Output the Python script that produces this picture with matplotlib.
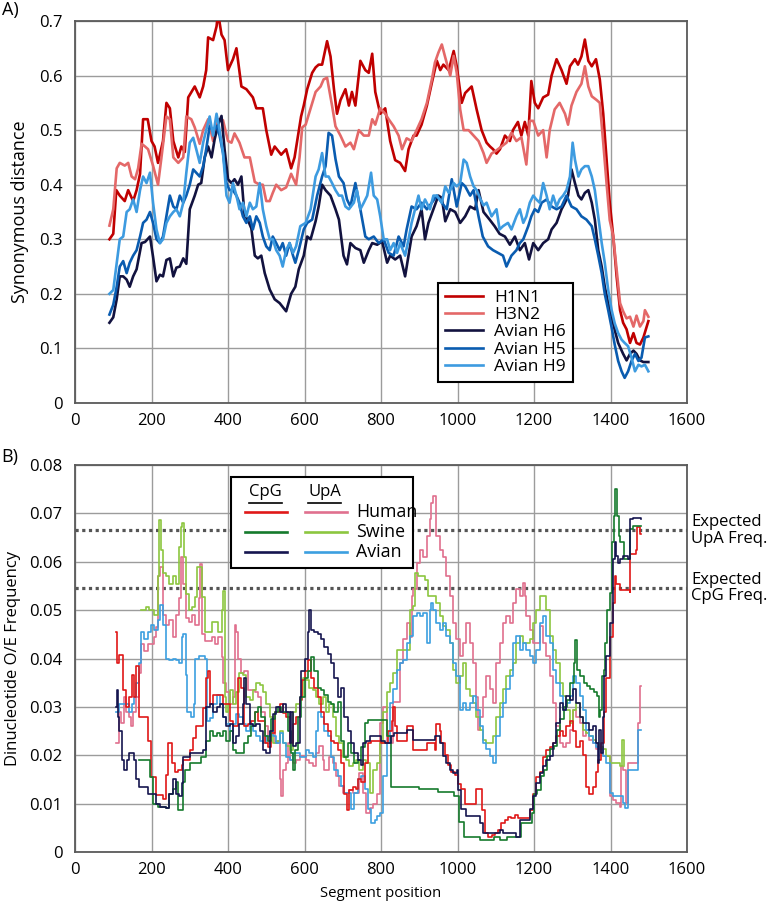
import matplotlib
matplotlib.use("Agg")
import matplotlib.pyplot as plt
import matplotlib.transforms as mtransforms
from matplotlib.patches import Rectangle
from matplotlib.ticker import FuncFormatter, MultipleLocator

plt.rcParams['font.family'] = ['Open Sans', 'DejaVu Sans']

# ---------------- Panel A: synonymous distance ----------------
h1n1_x = [90, 100, 108, 117, 130, 139, 152, 161, 170, 178, 190, 200, 208, 217, 230, 239, 248, 257, 270, 278,
          287, 296, 313, 326, 335, 343, 348, 361, 370, 374, 383, 391, 400, 413, 422, 435, 448, 465, 474, 491,
          500, 513, 522, 539, 552, 565, 574, 591, 598, 607, 620, 629, 637, 646, 659, 668, 677, 685, 694, 707,
          716, 724, 733, 746, 759, 768, 777, 785, 798, 811, 824, 837, 850, 863, 872, 885, 893, 906, 920, 933,
          946, 955, 963, 977, 990, 998, 1011, 1020, 1037, 1050, 1063, 1076, 1085, 1093, 1102, 1111, 1124, 1137,
          1145, 1158, 1167, 1176, 1185, 1193, 1202, 1211, 1224, 1237, 1246, 1259, 1272, 1285, 1294, 1307, 1315,
          1324, 1333, 1342, 1351, 1362, 1372, 1381, 1390, 1398, 1407, 1416, 1425, 1433, 1442, 1451, 1460, 1468,
          1477, 1486, 1499]
h1n1_y = [0.30, 0.31, 0.39, 0.38, 0.37, 0.39, 0.37, 0.39, 0.42, 0.52, 0.52, 0.48, 0.47, 0.44, 0.48, 0.55, 0.54,
          0.48, 0.45, 0.47, 0.46, 0.56, 0.58, 0.56, 0.58, 0.61, 0.67, 0.665, 0.69, 0.715, 0.675, 0.665, 0.61,
          0.63, 0.65, 0.58, 0.575, 0.56, 0.54, 0.54, 0.50, 0.455, 0.47, 0.455, 0.465, 0.43, 0.45, 0.525, 0.545,
          0.575, 0.605, 0.615, 0.62, 0.62, 0.663, 0.635, 0.575, 0.53, 0.555, 0.575, 0.545, 0.57, 0.545, 0.627,
          0.61, 0.605, 0.64, 0.57, 0.53, 0.54, 0.48, 0.445, 0.44, 0.425, 0.465, 0.49, 0.49, 0.51, 0.545, 0.587,
          0.627, 0.61, 0.62, 0.61, 0.645, 0.617, 0.55, 0.568, 0.58, 0.538, 0.50, 0.477, 0.47, 0.465, 0.457, 0.465,
          0.49, 0.48, 0.50, 0.515, 0.49, 0.515, 0.49, 0.59, 0.55, 0.54, 0.56, 0.565, 0.60, 0.63, 0.61, 0.585,
          0.617, 0.63, 0.62, 0.635, 0.666, 0.627, 0.617, 0.63, 0.593, 0.53, 0.445, 0.367, 0.306, 0.232, 0.17,
          0.147, 0.135, 0.11, 0.128, 0.11, 0.107, 0.12, 0.15]

h3n2_x = [90, 100, 109, 117, 130, 139, 148, 157, 165, 174, 183, 191, 204, 217, 226, 239, 248, 257, 270, 283,
          291, 304, 313, 326, 335, 348, 361, 374, 387, 400, 409, 417, 430, 443, 457, 470, 483, 491, 500, 509,
          517, 526, 539, 552, 565, 578, 587, 594, 603, 616, 629, 642, 650, 659, 672, 681, 694, 707, 720, 729,
          742, 755, 768, 777, 785, 798, 811, 820, 833, 846, 855, 867, 880, 893, 906, 920, 933, 941, 950, 959,
          968, 981, 990, 998, 1007, 1016, 1029, 1042, 1055, 1068, 1076, 1089, 1102, 1115, 1128, 1141, 1154, 1167,
          1180, 1189, 1198, 1211, 1224, 1233, 1241, 1254, 1267, 1281, 1289, 1298, 1311, 1324, 1333, 1342, 1351,
          1364, 1372, 1381, 1390, 1398, 1407, 1416, 1425, 1433, 1442, 1451, 1460, 1468, 1477, 1486, 1490, 1499]
h3n2_y = [0.325, 0.355, 0.43, 0.44, 0.435, 0.44, 0.415, 0.41, 0.43, 0.475, 0.47, 0.465, 0.435, 0.40, 0.45,
          0.525, 0.52, 0.45, 0.44, 0.45, 0.525, 0.52, 0.505, 0.475, 0.50, 0.52, 0.48, 0.52, 0.518, 0.48, 0.477,
          0.494, 0.477, 0.45, 0.45, 0.405, 0.40, 0.40, 0.37, 0.37, 0.385, 0.40, 0.39, 0.395, 0.42, 0.40, 0.45,
          0.505, 0.51, 0.54, 0.57, 0.58, 0.593, 0.596, 0.545, 0.507, 0.49, 0.47, 0.477, 0.465, 0.50, 0.49, 0.49,
          0.52, 0.51, 0.54, 0.53, 0.52, 0.507, 0.49, 0.465, 0.485, 0.48, 0.50, 0.52, 0.55, 0.593, 0.624, 0.642,
          0.657, 0.633, 0.60, 0.636, 0.605, 0.538, 0.50, 0.50, 0.49, 0.48, 0.458, 0.44, 0.457, 0.463, 0.47, 0.477,
          0.495, 0.48, 0.487, 0.437, 0.517, 0.517, 0.49, 0.50, 0.45, 0.50, 0.538, 0.55, 0.53, 0.51, 0.545, 0.57,
          0.585, 0.617, 0.58, 0.562, 0.555, 0.55, 0.477, 0.40, 0.335, 0.306, 0.245, 0.183, 0.168, 0.155, 0.158,
          0.14, 0.16, 0.14, 0.15, 0.17, 0.158]

h6_x = [90, 100, 109, 117, 126, 135, 143, 152, 161, 174, 183, 196, 204, 213, 222, 230, 239, 248, 257, 265,
        274, 283, 291, 300, 313, 322, 330, 339, 348, 357, 365, 374, 383, 391, 400, 409, 417, 426, 435, 443,
        452, 461, 470, 478, 487, 496, 509, 522, 535, 552, 565, 576, 585, 598, 607, 616, 629, 637, 646, 655,
        668, 681, 690, 702, 711, 720, 733, 746, 755, 768, 777, 790, 803, 816, 824, 837, 850, 863, 872, 880,
        893, 906, 915, 924, 937, 950, 959, 968, 981, 994, 1007, 1020, 1033, 1046, 1055, 1068, 1084, 1097, 1110,
        1124, 1137, 1150, 1163, 1176, 1187, 1198, 1211, 1224, 1237, 1246, 1259, 1272, 1281, 1289, 1298, 1307,
        1316, 1324, 1333, 1342, 1351, 1359, 1368, 1377, 1385, 1394, 1403, 1411, 1420, 1433, 1442, 1451, 1460,
        1468, 1477, 1486, 1499]
h6_y = [0.147, 0.157, 0.19, 0.232, 0.232, 0.226, 0.213, 0.232, 0.245, 0.293, 0.295, 0.305, 0.268, 0.223,
        0.235, 0.232, 0.262, 0.265, 0.232, 0.248, 0.25, 0.265, 0.255, 0.355, 0.38, 0.40, 0.403, 0.45, 0.47,
        0.45, 0.483, 0.51, 0.526, 0.465, 0.41, 0.403, 0.41, 0.40, 0.415, 0.345, 0.335, 0.32, 0.27, 0.265, 0.27,
        0.238, 0.208, 0.19, 0.183, 0.168, 0.20, 0.213, 0.245, 0.27, 0.305, 0.30, 0.333, 0.36, 0.40, 0.39, 0.38,
        0.355, 0.336, 0.27, 0.254, 0.293, 0.284, 0.28, 0.257, 0.28, 0.293, 0.29, 0.296, 0.257, 0.27, 0.263,
        0.27, 0.232, 0.27, 0.305, 0.324, 0.355, 0.30, 0.33, 0.355, 0.38, 0.376, 0.333, 0.355, 0.35, 0.33, 0.342,
        0.36, 0.355, 0.39, 0.35, 0.336, 0.324, 0.31, 0.305, 0.29, 0.305, 0.28, 0.293, 0.263, 0.293, 0.28, 0.293,
        0.30, 0.318, 0.33, 0.355, 0.367, 0.38, 0.428, 0.403, 0.38, 0.373, 0.385, 0.39, 0.367, 0.336, 0.28, 0.25,
        0.213, 0.183, 0.158, 0.134, 0.11, 0.09, 0.078, 0.09, 0.096, 0.09, 0.078, 0.075, 0.075]

h5_x = [90, 100, 109, 117, 126, 135, 143, 152, 161, 170, 178, 187, 196, 204, 213, 222, 230, 239, 248, 257,
        265, 274, 283, 291, 300, 309, 317, 326, 335, 343, 352, 361, 370, 378, 387, 396, 404, 413, 422, 430,
        439, 448, 457, 465, 474, 483, 491, 500, 509, 517, 526, 535, 543, 552, 561, 570, 576, 585, 598, 607,
        620, 633, 646, 655, 663, 672, 681, 690, 702, 711, 720, 733, 746, 759, 768, 781, 794, 807, 820, 833,
        846, 859, 867, 880, 893, 906, 920, 933, 946, 959, 972, 985, 998, 1011, 1020, 1033, 1042, 1055, 1066,
        1080, 1093, 1106, 1119, 1128, 1141, 1154, 1163, 1172, 1185, 1193, 1202, 1211, 1220, 1233, 1246, 1259,
        1272, 1285, 1298, 1311, 1324, 1337, 1351, 1359, 1368, 1377, 1385, 1394, 1403, 1411, 1420, 1429, 1437,
        1446, 1455, 1464, 1473, 1481, 1490, 1499]
h5_y = [0.162, 0.18, 0.213, 0.25, 0.26, 0.238, 0.257, 0.27, 0.28, 0.305, 0.33, 0.336, 0.35, 0.33, 0.30,
        0.293, 0.305, 0.342, 0.38, 0.36, 0.355, 0.38, 0.367, 0.38, 0.40, 0.428, 0.422, 0.415, 0.434, 0.465,
        0.507, 0.50, 0.507, 0.49, 0.458, 0.403, 0.39, 0.39, 0.38, 0.367, 0.342, 0.33, 0.342, 0.318, 0.342, 0.33,
        0.305, 0.287, 0.28, 0.305, 0.293, 0.28, 0.293, 0.27, 0.293, 0.27, 0.257, 0.28, 0.318, 0.33, 0.336, 0.38,
        0.415, 0.434, 0.495, 0.49, 0.447, 0.415, 0.403, 0.373, 0.36, 0.403, 0.355, 0.305, 0.30, 0.305, 0.293,
        0.30, 0.275, 0.27, 0.305, 0.287, 0.318, 0.36, 0.355, 0.367, 0.355, 0.367, 0.38, 0.367, 0.355, 0.41, 0.36,
        0.403, 0.397, 0.38, 0.39, 0.342, 0.305, 0.287, 0.28, 0.275, 0.27, 0.25, 0.27, 0.28, 0.293, 0.30, 0.324,
        0.342, 0.355, 0.35, 0.367, 0.373, 0.36, 0.355, 0.36, 0.38, 0.36, 0.355, 0.342, 0.336, 0.324, 0.30, 0.27,
        0.238, 0.20, 0.17, 0.138, 0.107, 0.077, 0.058, 0.046, 0.058, 0.077, 0.09, 0.077, 0.083, 0.12, 0.122]

h9_x = [90, 100, 109, 117, 126, 135, 143, 152, 161, 170, 178, 187, 196, 204, 213, 222, 230, 239, 248, 257,
        265, 274, 283, 291, 300, 309, 317, 326, 335, 343, 352, 361, 370, 378, 387, 396, 404, 413, 422, 430,
        439, 448, 457, 465, 474, 483, 491, 500, 509, 517, 526, 535, 543, 552, 561, 570, 578, 589, 603, 616,
        629, 637, 646, 655, 663, 672, 681, 690, 698, 707, 716, 729, 737, 746, 755, 764, 774, 781, 790, 798,
        807, 816, 824, 833, 842, 850, 863, 872, 880, 889, 898, 906, 915, 928, 937, 946, 959, 968, 977, 990,
        998, 1007, 1016, 1024, 1033, 1042, 1050, 1059, 1068, 1076, 1089, 1102, 1110, 1119, 1132, 1141, 1154,
        1163, 1172, 1180, 1189, 1198, 1206, 1215, 1224, 1233, 1241, 1250, 1259, 1267, 1276, 1285, 1294, 1301,
        1307, 1316, 1324, 1333, 1342, 1351, 1359, 1368, 1377, 1385, 1394, 1403, 1411, 1420, 1429, 1437, 1446,
        1455, 1464, 1473, 1481, 1490, 1499]
h9_y = [0.20, 0.207, 0.257, 0.30, 0.305, 0.35, 0.355, 0.373, 0.35, 0.39, 0.415, 0.403, 0.422, 0.367, 0.318,
        0.293, 0.30, 0.33, 0.342, 0.35, 0.355, 0.342, 0.367, 0.422, 0.477, 0.486, 0.465, 0.44, 0.477, 0.50,
        0.525, 0.49, 0.53, 0.50, 0.458, 0.38, 0.367, 0.403, 0.38, 0.355, 0.367, 0.342, 0.367, 0.355, 0.36,
        0.403, 0.355, 0.324, 0.30, 0.30, 0.28, 0.27, 0.25, 0.28, 0.293, 0.275, 0.287, 0.324, 0.33, 0.355, 0.415,
        0.428, 0.458, 0.415, 0.415, 0.403, 0.39, 0.38, 0.38, 0.36, 0.355, 0.367, 0.39, 0.355, 0.367, 0.38, 0.422,
        0.38, 0.373, 0.342, 0.30, 0.30, 0.28, 0.293, 0.275, 0.293, 0.27, 0.30, 0.33, 0.355, 0.38, 0.355, 0.373,
        0.355, 0.38, 0.38, 0.367, 0.397, 0.385, 0.403, 0.397, 0.403, 0.446, 0.44, 0.415, 0.397, 0.39, 0.375,
        0.362, 0.367, 0.342, 0.355, 0.318, 0.324, 0.33, 0.318, 0.342, 0.355, 0.33, 0.342, 0.367, 0.38, 0.373,
        0.367, 0.403, 0.38, 0.355, 0.38, 0.36, 0.373, 0.38, 0.39, 0.415, 0.477, 0.446, 0.415, 0.428, 0.434,
        0.434, 0.415, 0.39, 0.342, 0.293, 0.257, 0.207, 0.17, 0.146, 0.128, 0.116, 0.11, 0.104, 0.083, 0.058,
        0.07, 0.067, 0.07, 0.058]

labels_a = ['H1N1', 'H3N2', 'Avian H6', 'Avian H5', 'Avian H9']
colors_a = ['#c00000', '#e46868', '#12123f', '#0a5cb0', '#3d9be0']

# ---------------- Panel B: dinucleotide O/E ----------------
cpg_human_x = [107, 110, 116, 125, 133, 142, 149, 155, 160, 168, 192, 199, 212, 230, 238, 243, 253, 262, 270,
               279, 283, 300, 309, 317, 335, 342, 348, 353, 361, 387, 405, 413, 426, 435, 443, 452, 461, 470,
               478, 496, 504, 513, 522, 535, 543, 552, 561, 570, 578, 587, 593, 600, 609, 617, 626, 635, 643,
               652, 661, 670, 678, 687, 696, 704, 711, 717, 726, 735, 739, 748, 757, 765, 774, 800, 819, 828,
               832, 837, 841, 867, 884, 919, 941, 945, 954, 958, 967, 976, 984, 993, 1002, 1010, 1019, 1049,
               1063, 1071, 1080, 1089, 1097, 1106, 1115, 1123, 1132, 1141, 1150, 1158, 1189, 1198, 1206, 1215,
               1224, 1232, 1241, 1250, 1258, 1267, 1276, 1284, 1293, 1302, 1311, 1319, 1328, 1337, 1345, 1354,
               1363, 1367, 1376, 1382, 1389, 1398, 1406, 1411, 1415, 1424, 1450, 1452, 1467, 1469, 1476, 1480]
cpg_human_y = [0.0455, 0.039, 0.0407, 0.0335, 0.030, 0.032, 0.0365, 0.032, 0.0385, 0.028, 0.023, 0.0155,
               0.0117, 0.011, 0.016, 0.0225, 0.0183, 0.0165, 0.017, 0.018, 0.019, 0.021, 0.0235, 0.026, 0.0297,
               0.036, 0.0375, 0.0305, 0.0325, 0.0305, 0.027, 0.026, 0.036, 0.034, 0.026, 0.0265, 0.027, 0.029,
               0.027, 0.0225, 0.0218, 0.0245, 0.029, 0.0305, 0.0287, 0.028, 0.0225, 0.0265, 0.028, 0.0315, 0.0355,
               0.0375, 0.0397, 0.036, 0.034, 0.032, 0.029, 0.0265, 0.025, 0.023, 0.0225, 0.021, 0.0183, 0.012,
               0.0087, 0.0128, 0.0135, 0.013, 0.015, 0.0145, 0.0183, 0.0225, 0.023, 0.0225, 0.025, 0.027, 0.030,
               0.026, 0.023, 0.026, 0.021, 0.0225, 0.021, 0.0265, 0.025, 0.0225, 0.020, 0.018, 0.0165, 0.016,
               0.014, 0.013, 0.010, 0.013, 0.0087, 0.004, 0.0032, 0.0035, 0.004, 0.0045, 0.006, 0.0066, 0.0073,
               0.007, 0.0077, 0.007, 0.0087, 0.012, 0.0155, 0.0165, 0.0197, 0.021, 0.0218, 0.0225, 0.024, 0.025,
               0.024, 0.026, 0.027, 0.025, 0.0218, 0.023, 0.020, 0.0135, 0.012, 0.0135, 0.0165, 0.019, 0.0225,
               0.029, 0.036, 0.0445, 0.0514, 0.057, 0.0555, 0.0541, 0.0538, 0.0617, 0.0624, 0.0672, 0.0658,
               0.0658]

cpg_swine_x = [168, 195, 204, 216, 238, 247, 255, 264, 268, 283, 287, 300, 330, 342, 353, 361, 370, 378, 387,
               396, 404, 413, 422, 443, 452, 461, 470, 478, 487, 496, 504, 513, 522, 530, 539, 556, 565, 570,
               574, 583, 591, 600, 609, 617, 626, 635, 643, 652, 661, 670, 678, 687, 696, 704, 713, 722, 730,
               739, 748, 757, 765, 815, 825, 900, 950, 990, 1004, 1017, 1043, 1060, 1095, 1112, 1130, 1156,
               1165, 1195, 1200, 1208, 1217, 1226, 1234, 1243, 1252, 1260, 1269, 1278, 1287, 1295, 1304, 1308,
               1313, 1321, 1330, 1339, 1347, 1356, 1365, 1369, 1373, 1378, 1382, 1386, 1391, 1399, 1404, 1408,
               1413, 1417, 1421, 1426, 1434, 1450, 1460, 1480]
cpg_swine_y = [0.019, 0.0155, 0.010, 0.0094, 0.009, 0.012, 0.013, 0.0145, 0.0087, 0.0145, 0.017, 0.0184,
               0.0197, 0.023, 0.025, 0.024, 0.0245, 0.024, 0.025, 0.023, 0.025, 0.021, 0.0204, 0.0225, 0.024,
               0.026, 0.029, 0.030, 0.028, 0.024, 0.023, 0.0275, 0.029, 0.030, 0.029, 0.025, 0.0204, 0.017, 0.021,
               0.028, 0.032, 0.036, 0.0375, 0.0403, 0.0375, 0.034, 0.0335, 0.0325, 0.031, 0.0305, 0.029, 0.031,
               0.023, 0.0197, 0.0225, 0.0204, 0.0183, 0.019, 0.0218, 0.0266, 0.0273, 0.024, 0.0135, 0.013, 0.0125,
               0.0115, 0.0063, 0.0032, 0.003, 0.0025, 0.0032, 0.0025, 0.003, 0.0032, 0.006, 0.008, 0.012, 0.0129,
               0.0157, 0.017, 0.0198, 0.0212, 0.0219, 0.0253, 0.0274, 0.030, 0.0315, 0.035, 0.039, 0.0439, 0.0377,
               0.0363, 0.035, 0.0343, 0.0336, 0.033, 0.0322, 0.028, 0.0294, 0.0363, 0.0377, 0.0432, 0.050, 0.0536,
               0.064, 0.0694, 0.075, 0.0694, 0.0653, 0.064, 0.0605, 0.0667, 0.0674, 0.0674]

cpg_avian_x = [107, 110, 113, 116, 124, 129, 137, 141, 155, 159, 168, 192, 212, 221, 238, 247, 255, 264, 272,
               279, 283, 300, 335, 342, 353, 361, 370, 378, 387, 396, 404, 413, 422, 430, 439, 443, 448, 457,
               465, 474, 483, 491, 500, 509, 517, 526, 535, 543, 552, 561, 565, 569, 578, 587, 591, 600, 609,
               613, 617, 626, 635, 643, 652, 661, 670, 678, 687, 696, 704, 713, 722, 730, 739, 748, 752, 761,
               770, 800, 810, 826, 834, 867, 884, 941, 954, 963, 971, 980, 989, 998, 1002, 1010, 1023, 1058,
               1067, 1110, 1119, 1154, 1163, 1189, 1198, 1206, 1215, 1224, 1232, 1241, 1250, 1258, 1267, 1276,
               1284, 1293, 1302, 1311, 1319, 1328, 1345, 1354, 1363, 1367, 1371, 1376, 1380, 1384, 1389, 1398,
               1406, 1411, 1415, 1419, 1424, 1432, 1445, 1450, 1458, 1480]
cpg_avian_y = [0.030, 0.0335, 0.028, 0.025, 0.019, 0.017, 0.019, 0.0204, 0.019, 0.015, 0.0135, 0.012, 0.010,
               0.0094, 0.009, 0.012, 0.015, 0.012, 0.0115, 0.0143, 0.0197, 0.0204, 0.021, 0.030, 0.0305, 0.029,
               0.030, 0.0305, 0.028, 0.026, 0.0265, 0.0225, 0.024, 0.0265, 0.0305, 0.036, 0.0305, 0.0265, 0.026,
               0.0265, 0.025, 0.021, 0.0204, 0.025, 0.0285, 0.030, 0.029, 0.0305, 0.029, 0.0225, 0.029, 0.022,
               0.0225, 0.032, 0.0375, 0.040, 0.0455, 0.050, 0.046, 0.0455, 0.045, 0.044, 0.0424, 0.041, 0.039,
               0.036, 0.032, 0.034, 0.028, 0.025, 0.0225, 0.0205, 0.019, 0.018, 0.0225, 0.023, 0.024, 0.023,
               0.0225, 0.024, 0.0245, 0.0253, 0.0232, 0.024, 0.0225, 0.0198, 0.0184, 0.017, 0.0163, 0.017, 0.0129,
               0.0088, 0.0074, 0.006, 0.004, 0.0046, 0.004, 0.0032, 0.0067, 0.0088, 0.0115, 0.0143, 0.0163,
               0.0177, 0.019, 0.0198, 0.0225, 0.0267, 0.0308, 0.0294, 0.0322, 0.0315, 0.0336, 0.0308, 0.028,
               0.0267, 0.0253, 0.026, 0.0225, 0.0184, 0.0253, 0.0205, 0.028, 0.0363, 0.0405, 0.0474, 0.0605,
               0.064, 0.0612, 0.0598, 0.0605, 0.0612, 0.0605, 0.0688, 0.069, 0.0688]

upa_human_x = [107, 114, 120, 129, 133, 142, 146, 151, 159, 166, 172, 181, 190, 207, 211, 218, 223, 229, 238,
               247, 255, 264, 272, 278, 283, 289, 298, 306, 315, 323, 328, 332, 340, 357, 366, 374, 383, 387,
               396, 404, 413, 417, 421, 426, 434, 443, 452, 470, 478, 487, 496, 504, 513, 522, 530, 535, 539,
               543, 552, 557, 561, 570, 578, 587, 604, 613, 622, 630, 639, 648, 652, 665, 674, 683, 691, 700,
               717, 726, 743, 752, 761, 770, 778, 790, 797, 806, 815, 832, 849, 858, 867, 876, 880, 884, 893,
               902, 910, 919, 928, 932, 936, 945, 954, 963, 971, 980, 989, 997, 1006, 1015, 1023, 1032, 1041,
               1049, 1054, 1058, 1067, 1075, 1084, 1093, 1101, 1110, 1119, 1128, 1136, 1145, 1154, 1163, 1171,
               1176, 1180, 1189, 1197, 1215, 1224, 1232, 1241, 1250, 1258, 1267, 1276, 1284, 1293, 1302, 1311,
               1319, 1328, 1337, 1345, 1354, 1363, 1371, 1380, 1398, 1406, 1415, 1424, 1428, 1432, 1441, 1445,
               1471, 1476, 1480]
upa_human_y = [0.0225, 0.029, 0.0267, 0.032, 0.029, 0.028, 0.026, 0.029, 0.032, 0.037, 0.043, 0.0415, 0.043,
               0.0445, 0.0466, 0.057, 0.059, 0.049, 0.047, 0.048, 0.0445, 0.049, 0.0525, 0.061, 0.0555, 0.0483,
               0.0476, 0.049, 0.047, 0.0525, 0.0595, 0.045, 0.0437, 0.0445, 0.043, 0.0445, 0.0403, 0.035, 0.033,
               0.0305, 0.032, 0.047, 0.0455, 0.040, 0.037, 0.0375, 0.0335, 0.033, 0.032, 0.029, 0.026, 0.0225,
               0.0245, 0.0225, 0.023, 0.015, 0.0115, 0.017, 0.0184, 0.0225, 0.019, 0.0184, 0.019, 0.0198, 0.019,
               0.0184, 0.0177, 0.0205, 0.022, 0.019, 0.017, 0.0197, 0.0184, 0.0157, 0.0136, 0.0122, 0.0129,
               0.0122, 0.0163, 0.0122, 0.008, 0.009, 0.010, 0.012, 0.0267, 0.030, 0.0225, 0.031, 0.039, 0.044,
               0.0474, 0.0445, 0.053, 0.0543, 0.0598, 0.0625, 0.061, 0.0653, 0.0688, 0.0722, 0.0736, 0.0653,
               0.0625, 0.061, 0.057, 0.053, 0.0474, 0.044, 0.0405, 0.0432, 0.0474, 0.0432, 0.039, 0.032, 0.0253,
               0.028, 0.032, 0.0363, 0.0336, 0.0308, 0.039, 0.0432, 0.0474, 0.0487, 0.0474, 0.0515, 0.0543, 0.053,
               0.0557, 0.053, 0.0487, 0.046, 0.0432, 0.0467, 0.0432, 0.0405, 0.0363, 0.0308, 0.026, 0.0225,
               0.0218, 0.0225, 0.0253, 0.0294, 0.028, 0.0267, 0.024, 0.0253, 0.0232, 0.0225, 0.0212, 0.0218,
               0.0198, 0.0115, 0.0108, 0.0101, 0.0094, 0.0177, 0.017, 0.0101, 0.0184, 0.0267, 0.0343, 0.0343]

upa_swine_x = [172, 185, 194, 207, 216, 220, 225, 229, 238, 247, 255, 264, 272, 277, 281, 285, 289, 298, 306,
               315, 319, 328, 332, 340, 357, 374, 383, 387, 391, 396, 400, 404, 413, 421, 430, 439, 448, 457,
               465, 474, 483, 491, 500, 509, 517, 526, 535, 543, 552, 561, 569, 578, 587, 596, 604, 613, 622,
               630, 639, 648, 656, 665, 674, 683, 691, 700, 709, 717, 726, 735, 743, 752, 761, 770, 778, 790,
               797, 806, 815, 823, 832, 841, 876, 884, 889, 897, 915, 924, 945, 954, 963, 971, 980, 989, 997,
               1006, 1015, 1023, 1032, 1041, 1049, 1058, 1067, 1075, 1093, 1101, 1110, 1119, 1128, 1136, 1145,
               1154, 1163, 1171, 1189, 1197, 1206, 1215, 1232, 1241, 1250, 1258, 1267, 1276, 1284, 1293, 1302,
               1311, 1319, 1328, 1337, 1345, 1354, 1363, 1371, 1380, 1389, 1398, 1424, 1430, 1435]
upa_swine_y = [0.050, 0.0507, 0.050, 0.049, 0.057, 0.0686, 0.0624, 0.0576, 0.057, 0.0555, 0.057, 0.0555,
               0.063, 0.0672, 0.068, 0.061, 0.0534, 0.050, 0.0507, 0.0527, 0.059, 0.059, 0.0527, 0.0455, 0.0476,
               0.0455, 0.050, 0.054, 0.032, 0.029, 0.0305, 0.0335, 0.0305, 0.033, 0.037, 0.0365, 0.032, 0.0315,
               0.0335, 0.035, 0.0345, 0.033, 0.0305, 0.028, 0.0225, 0.023, 0.025, 0.0225, 0.022, 0.021, 0.029,
               0.0305, 0.032, 0.036, 0.0355, 0.034, 0.0335, 0.032, 0.0305, 0.032, 0.029, 0.0305, 0.028, 0.024,
               0.0225, 0.0197, 0.019, 0.0177, 0.0184, 0.019, 0.017, 0.019, 0.0184, 0.0122, 0.017, 0.0184, 0.0225,
               0.029, 0.033, 0.035, 0.037, 0.0418, 0.050, 0.0508, 0.0577, 0.057, 0.0563, 0.053, 0.0515, 0.0487,
               0.0467, 0.046, 0.0432, 0.0377, 0.035, 0.0363, 0.039, 0.0336, 0.0322, 0.0308, 0.028, 0.0253, 0.0232,
               0.0225, 0.024, 0.028, 0.0308, 0.0336, 0.0363, 0.0377, 0.039, 0.0432, 0.0446, 0.0432, 0.044, 0.0474,
               0.050, 0.053, 0.050, 0.0446, 0.0418, 0.039, 0.035, 0.0322, 0.0294, 0.0267, 0.0294, 0.0308, 0.028,
               0.0253, 0.0246, 0.024, 0.0232, 0.0225, 0.0218, 0.0212, 0.0198, 0.0184, 0.0177, 0.0232, 0.0177]

upa_avian_x = [107, 116, 141, 149, 155, 160, 166, 172, 181, 190, 199, 207, 216, 223, 229, 238, 247, 255, 264,
               272, 279, 283, 289, 294, 302, 311, 315, 323, 340, 345, 353, 362, 370, 379, 387, 396, 404, 413,
               422, 430, 439, 448, 457, 465, 474, 483, 491, 500, 509, 517, 526, 535, 543, 552, 561, 570, 587,
               604, 613, 622, 630, 635, 643, 652, 661, 670, 678, 687, 696, 704, 722, 730, 739, 748, 757, 765,
               774, 783, 790, 797, 806, 815, 823, 832, 841, 849, 858, 867, 876, 884, 893, 902, 910, 919, 928,
               932, 936, 945, 954, 963, 971, 980, 989, 997, 1006, 1015, 1023, 1032, 1041, 1049, 1058, 1067, 1075,
               1084, 1093, 1101, 1110, 1119, 1128, 1136, 1145, 1154, 1163, 1171, 1180, 1189, 1197, 1206, 1215,
               1224, 1232, 1241, 1250, 1258, 1267, 1276, 1284, 1293, 1302, 1311, 1319, 1328, 1337, 1345, 1354,
               1363, 1371, 1380, 1389, 1398, 1406, 1432, 1438, 1445, 1471, 1480]
upa_avian_y = [0.029, 0.0305, 0.029, 0.0305, 0.032, 0.035, 0.039, 0.0455, 0.044, 0.0455, 0.047, 0.046, 0.048,
               0.051, 0.047, 0.040, 0.0397, 0.040, 0.0397, 0.039, 0.0445, 0.045, 0.0365, 0.029, 0.028, 0.0305,
               0.040, 0.0405, 0.040, 0.027, 0.0277, 0.0305, 0.0325, 0.0305, 0.028, 0.0265, 0.025, 0.0265, 0.0285,
               0.028, 0.0265, 0.025, 0.0265, 0.025, 0.024, 0.023, 0.0225, 0.024, 0.025, 0.024, 0.0225, 0.0245,
               0.0225, 0.0197, 0.019, 0.0205, 0.0197, 0.021, 0.0205, 0.0197, 0.025, 0.029, 0.028, 0.025, 0.024,
               0.0197, 0.017, 0.0157, 0.0136, 0.0122, 0.0088, 0.0122, 0.015, 0.0157, 0.013, 0.0088, 0.006, 0.0066,
               0.0074, 0.008, 0.0157, 0.0225, 0.0308, 0.0336, 0.0377, 0.039, 0.0397, 0.0432, 0.0446, 0.0487,
               0.0494, 0.0487, 0.0494, 0.0432, 0.050, 0.0515, 0.050, 0.0474, 0.046, 0.0474, 0.0446, 0.0432, 0.039,
               0.0363, 0.0294, 0.0308, 0.0294, 0.0308, 0.0322, 0.0294, 0.026, 0.0225, 0.0212, 0.0198, 0.0184,
               0.024, 0.028, 0.0308, 0.0336, 0.0363, 0.0432, 0.0446, 0.0418, 0.0432, 0.0418, 0.0405, 0.039, 0.0418,
               0.0474, 0.0487, 0.0446, 0.0432, 0.0377, 0.035, 0.0322, 0.0294, 0.0308, 0.0322, 0.0363, 0.035,
               0.0322, 0.0294, 0.0253, 0.024, 0.0225, 0.0218, 0.0212, 0.0198, 0.0184, 0.0122, 0.0115, 0.0101,
               0.009, 0.017, 0.0253, 0.0253]

expected_upa = 0.0665
expected_cpg = 0.0546

col_cpg = ['#e01818', '#157a2c', '#15154f']
col_upa = ['#e0708e', '#8cc63f', '#3c9fe0']
hosts = ['Human', 'Swine', 'Avian']

grid_col = '#9c9c9c'
spine_col = '#5a5a5a'


def style_axes(ax):
    ax.set_xlim(0, 1600)
    ax.xaxis.set_major_locator(MultipleLocator(200))
    ax.grid(True, color=grid_col, linewidth=1.0, zorder=0)
    ax.set_axisbelow(True)
    for s in ax.spines.values():
        s.set_color(spine_col)
        s.set_linewidth(1.3)
    ax.tick_params(length=0, labelsize=12, colors='black')
    ax.tick_params(axis='y', pad=9)
    ax.tick_params(axis='x', pad=7)
    ax.yaxis.set_major_formatter(FuncFormatter(lambda v, p: '%g' % round(v, 4)))


fig = plt.figure(figsize=(7.67, 9.09), dpi=100)

# ---- panel A ----
ax1 = fig.add_axes([0.0978, 0.5567, 0.7979, 0.4202])
series_a = [(h1n1_x, h1n1_y), (h3n2_x, h3n2_y), (h6_x, h6_y), (h5_x, h5_y), (h9_x, h9_y)]
for (xs, ys), lab, c in zip(series_a, labels_a, colors_a):
    ax1.plot(xs, ys, color=c, lw=1.9, label=lab, zorder=3)
style_axes(ax1)
ax1.set_ylim(0, 0.7)
ax1.yaxis.set_major_locator(MultipleLocator(0.1))
ax1.set_ylabel('Synonymous distance', fontsize=13, labelpad=7)
leg = ax1.legend(loc='upper left', bbox_to_anchor=(0.593, 0.315), fontsize=12.5, frameon=True,
                 fancybox=False, edgecolor='black', framealpha=1, borderaxespad=0,
                 handlelength=2.2, handletextpad=0.6, labelspacing=0.06, borderpad=0.42)
leg.get_frame().set_linewidth(1.5)

# ---- panel B ----
ax2 = fig.add_axes([0.0978, 0.0627, 0.7979, 0.4257])
ax2.axhline(expected_upa, color='#555555', lw=2.3, ls=(0, (1, 1.1)), zorder=2)
ax2.axhline(expected_cpg, color='#555555', lw=2.3, ls=(0, (1, 1.1)), zorder=2)
series_b = [(upa_human_x, upa_human_y, col_upa[0]), (upa_swine_x, upa_swine_y, col_upa[1]),
            (upa_avian_x, upa_avian_y, col_upa[2]), (cpg_human_x, cpg_human_y, col_cpg[0]),
            (cpg_swine_x, cpg_swine_y, col_cpg[1]), (cpg_avian_x, cpg_avian_y, col_cpg[2])]
for xs, ys, c in series_b:
    ax2.step(xs, ys, where='post', color=c, lw=1.2, zorder=3)
style_axes(ax2)
ax2.set_ylim(0, 0.08)
ax2.yaxis.set_major_locator(MultipleLocator(0.01))
ax2.set_ylabel('Dinucleotide O/E Frequency', fontsize=12, labelpad=6)
ax2.set_xlabel('Segment position', fontsize=10.7, labelpad=6)

# custom two-column legend
ax2.add_patch(Rectangle((0.255, 0.734), 0.297, 0.235, transform=ax2.transAxes, facecolor='white',
                        edgecolor='black', lw=1.5, zorder=5))
ax2.text(0.311, 0.930, 'CpG', transform=ax2.transAxes, ha='center', va='center', fontsize=12, zorder=6)
ax2.text(0.408, 0.930, 'UpA', transform=ax2.transAxes, ha='center', va='center', fontsize=12, zorder=6)
ax2.plot([0.284, 0.338], [0.903, 0.903], transform=ax2.transAxes, color='black', lw=1.2, zorder=6)
ax2.plot([0.381, 0.434], [0.903, 0.903], transform=ax2.transAxes, color='black', lw=1.2, zorder=6)
for i, (h, cc, cu) in enumerate(zip(hosts, col_cpg, col_upa)):
    yy = 0.879 - i * 0.0515
    ax2.plot([0.278, 0.346], [yy, yy], transform=ax2.transAxes, color=cc, lw=1.9, zorder=6)
    ax2.plot([0.376, 0.444], [yy, yy], transform=ax2.transAxes, color=cu, lw=1.9, zorder=6)
    ax2.text(0.459, yy, h, transform=ax2.transAxes, ha='left', va='center', fontsize=12.8, zorder=6)

trans = mtransforms.blended_transform_factory(ax2.transAxes, ax2.transData)
ax2.text(1.007, expected_upa, 'Expected\nUpA Freq.', transform=trans, ha='left', va='center',
         fontsize=12, linespacing=1.05)
ax2.text(1.007, expected_cpg, 'Expected\nCpG Freq.', transform=trans, ha='left', va='center',
         fontsize=12, linespacing=1.05)

fig.text(0.002, 0.989, 'A)', fontsize=13, va='center', ha='left')
fig.text(0.002, 0.497, 'B)', fontsize=13, va='center', ha='left')

fig.savefig('out.png', dpi=100)
